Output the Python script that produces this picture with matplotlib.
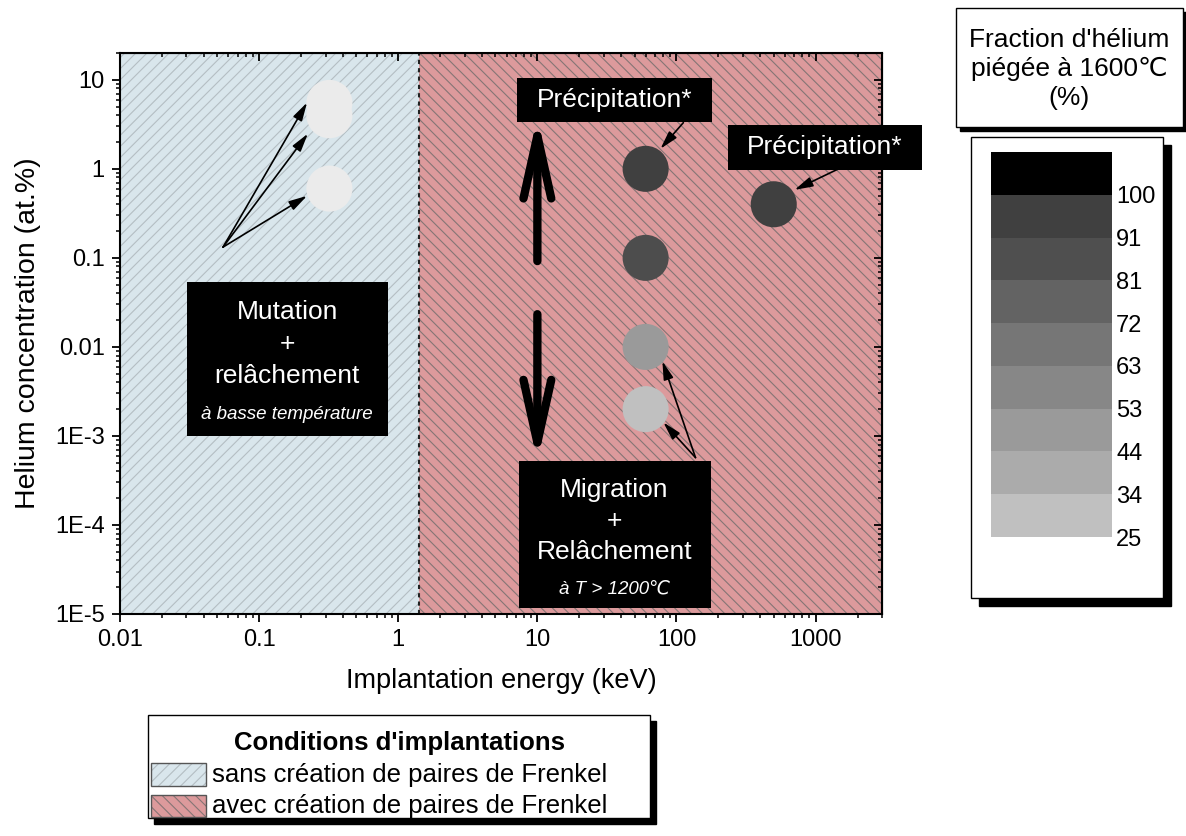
#!/usr/bin/env python3
"""Helium trapping map: implantation energy vs concentration, with annealing regimes."""

import matplotlib

matplotlib.use("Agg")

import matplotlib.pyplot as plt
import numpy as np
from matplotlib.patches import Rectangle
from matplotlib.ticker import LogLocator, NullFormatter

# ---- data ------------------------------------------------------------------
energy_kev = [0.32, 0.32, 0.32, 60, 60, 60, 60, 500]
conc_at = [5.5, 4.0, 0.6, 1.0, 0.1, 0.01, 0.002, 0.4]
point_grey = ["#ebebeb", "#ebebeb", "#ebebeb", "#404040", "#4d4d4d", "#9a9a9a", "#c0c0c0", "#404040"]

frenkel_threshold_kev = 1.4

x_ticks = [0.01, 0.1, 1, 10, 100, 1000]
x_tick_labels = ["0.01", "0.1", "1", "10", "100", "1000"]
y_ticks = [1e-5, 1e-4, 1e-3, 0.01, 0.1, 1, 10]
y_tick_labels = ["1E-5", "1E-4", "1E-3", "0.01", "0.1", "1", "10"]

scale_labels = ["25", "34", "44", "53", "63", "72", "81", "91", "100"]
scale_colors = ["#c0c0c0", "#ababab", "#9a9a9a", "#878787", "#767676",
                "#636363", "#4f4f4f", "#404040", "#000000"]

blue_fill, blue_hatch = "#d9e6ec", "#b4bec3"
red_fill, red_hatch = "#dc9a9c", "#857575"

W, H = 1186, 836

plt.rcParams["font.family"] = ["Liberation Sans", "DejaVu Sans"]
plt.rcParams["hatch.linewidth"] = 0.8


def px_rect(fig, x0, y0, x1, y1, **kw):
    """Rectangle in figure pixels, origin at top-left."""
    r = Rectangle((x0 / W, 1 - y1 / H), (x1 - x0) / W, (y1 - y0) / H,
                  transform=fig.transFigure, **kw)
    fig.patches.append(r)
    return r


def shadow_box(fig, x0, y0, x1, y1, off):
    px_rect(fig, x0 + off, y0 + off, x1 + off, y1 + off, facecolor="black", edgecolor="black", lw=1)
    px_rect(fig, x0, y0, x1, y1, facecolor="white", edgecolor="black", lw=1)


def black_box(ax, x0, x1, y0, y1):
    ax.add_patch(Rectangle((x0, y0), x1 - x0, y1 - y0, facecolor="black",
                           edgecolor="none", zorder=4, clip_on=False))


fig = plt.figure(figsize=(W / 100, H / 100), dpi=100)
ax = fig.add_axes([120 / W, 1 - 614 / H, 762 / W, 561 / H])
ax.set_xscale("log")
ax.set_yscale("log")
ax.set_xlim(0.01, 3000)
ax.set_ylim(1e-5, 20)

# regions
ax.axvspan(0.01, frenkel_threshold_kev, facecolor=blue_fill, edgecolor=blue_hatch,
           hatch="///", lw=0, zorder=0)
ax.axvspan(frenkel_threshold_kev, 3000, facecolor=red_fill, edgecolor=red_hatch,
           hatch="\\\\\\", lw=0, zorder=0)
ax.axvline(frenkel_threshold_kev, color="#222222", lw=1.5, ls=(0, (2, 2)), zorder=1)

ax.scatter(energy_kev, conc_at, s=1100, c=point_grey, edgecolors="none", zorder=3)

# ---- annotation boxes -------------------------------------------------------
white = dict(color="white", ha="center", va="center", zorder=5)

black_box(ax, 0.0303, 0.847, 1.01e-3, 0.0534)
ax.text(0.159, 0.0107, "Mutation\n+\nrelâchement", fontsize=19, linespacing=1.42, **white)
ax.text(0.159, 0.00174, "à basse température", fontsize=13.5, style="italic", **white)

black_box(ax, 7.18, 178.6, 3.38, 10.6)
ax.text(35.8, 6.0, "Précipitation*", fontsize=19, **white)

black_box(ax, 233, 5790, 0.974, 3.13)
ax.text(1161, 1.77, "Précipitation*", fontsize=19, **white)

black_box(ax, 7.43, 175.8, 1.17e-5, 5.28e-4)
ax.text(35.8, 1.11e-4, "Migration\n+\nRelâchement", fontsize=19, linespacing=1.38, **white)
ax.text(35.8, 1.91e-5, "à T > 1200℃", fontsize=13.5, style="italic", **white)

# ---- arrows -----------------------------------------------------------------
thin = dict(arrowstyle="-|>,head_length=1.1,head_width=0.3", color="black",
            lw=1.2, shrinkA=0, shrinkB=0)
for target in [(0.221, 5.54), (0.224, 2.48), (0.221, 0.497)]:
    ax.annotate("", xy=target, xytext=(0.055, 0.132), arrowprops=thin, zorder=5)
for target in [(79.2, 6.89e-3), (80.5, 1.42e-3)]:
    ax.annotate("", xy=target, xytext=(137, 5.71e-4), arrowprops=thin, zorder=5)
ax.annotate("", xy=(76.7, 1.68), xytext=(112, 3.30), arrowprops=thin, zorder=5)
ax.annotate("", xy=(706, 0.58), xytext=(1462, 1.0), arrowprops=thin, zorder=5,
            annotation_clip=False)

thick = dict(arrowstyle="->,head_length=4.5,head_width=1.0", color="black",
             lw=6, shrinkA=0, shrinkB=0, capstyle="round", joinstyle="round")
ax.annotate("", xy=(10, 3.85), xytext=(10, 0.092), arrowprops=thick, zorder=5)
ax.annotate("", xy=(10, 5.15e-4), xytext=(10, 0.0233), arrowprops=thick, zorder=5)

# ---- axes styling -----------------------------------------------------------
ax.set_xticks(x_ticks, labels=x_tick_labels)
ax.set_yticks(y_ticks, labels=y_tick_labels)
for axis in (ax.xaxis, ax.yaxis):
    axis.set_minor_locator(LogLocator(base=10, subs=np.arange(2, 10), numticks=20))
    axis.set_minor_formatter(NullFormatter())
ax.tick_params(which="major", direction="out", length=6, width=1.3, labelsize=17, pad=5)
ax.tick_params(which="minor", direction="out", length=3, width=1.1)
for sp in ax.spines.values():
    sp.set_linewidth(1.5)

ax_top = ax.secondary_xaxis("top")
ax_top.set_xticks(x_ticks)
ax_top.xaxis.set_minor_locator(LogLocator(base=10, subs=np.arange(2, 10), numticks=20))
ax_top.tick_params(which="both", direction="in", labeltop=False)
ax_top.tick_params(which="major", length=6, width=1.3)
ax_top.tick_params(which="minor", length=3, width=1.1)
ax_top.xaxis.set_minor_formatter(NullFormatter())

ax_right = ax.secondary_yaxis("right")
ax_right.set_yticks(y_ticks)
ax_right.yaxis.set_minor_locator(LogLocator(base=10, subs=np.arange(2, 10), numticks=20))
ax_right.tick_params(which="both", direction="in", labelright=False)
ax_right.tick_params(which="major", length=6, width=1.3)
ax_right.tick_params(which="minor", length=3, width=1.1)
ax_right.yaxis.set_minor_formatter(NullFormatter())

ax.set_xlabel("Implantation energy (keV)", fontsize=19.5, labelpad=12)
ax.set_ylabel("Helium concentration (at.%)", fontsize=20.5, labelpad=10)

# ---- grey scale key ---------------------------------------------------------
shadow_box(fig, 956, 8, 1183, 127, 4)
fig.text(1069 / W, 1 - 69 / H, "Fraction d'hélium\npiégée à 1600℃\n(%)",
         ha="center", va="center", fontsize=19, linespacing=1.25)

shadow_box(fig, 971, 137, 1163, 598, 8)
cax = fig.add_axes([991 / W, 1 - 537 / H, 121 / W, 385 / H])
cax.set_zorder(5)
cax.patch.set_visible(False)
cax.barh(np.arange(len(scale_colors)) + 0.5, 1, height=1, color=scale_colors)
cax.set_xlim(0, 1)
cax.set_ylim(0, len(scale_colors))
cax.set_xticks([])
cax.set_yticks(np.arange(len(scale_labels)), labels=scale_labels)
cax.yaxis.tick_right()
cax.tick_params(axis="y", length=0, labelsize=17, pad=3)
for sp in cax.spines.values():
    sp.set_visible(False)

# ---- legend -----------------------------------------------------------------
shadow_box(fig, 148, 715, 650, 818, 6)
fig.text(399 / W, 1 - 743 / H, "Conditions d'implantations", ha="center", va="center",
         fontsize=18.5, weight="bold")
px_rect(fig, 151, 763, 206, 786, facecolor=blue_fill, edgecolor=blue_hatch, hatch="///", lw=0)
px_rect(fig, 151, 763, 206, 786, facecolor="none", edgecolor="#555555", lw=1)
px_rect(fig, 151, 795, 206, 817, facecolor=red_fill, edgecolor=red_hatch, hatch="\\\\\\", lw=0)
px_rect(fig, 151, 795, 206, 817, facecolor="none", edgecolor="#555555", lw=1)
fig.text(212 / W, 1 - 775 / H, "sans création de paires de Frenkel", va="center", fontsize=18.5)
fig.text(212 / W, 1 - 806 / H, "avec création de paires de Frenkel", va="center", fontsize=18.5)

fig.savefig("out.png", dpi=100)
